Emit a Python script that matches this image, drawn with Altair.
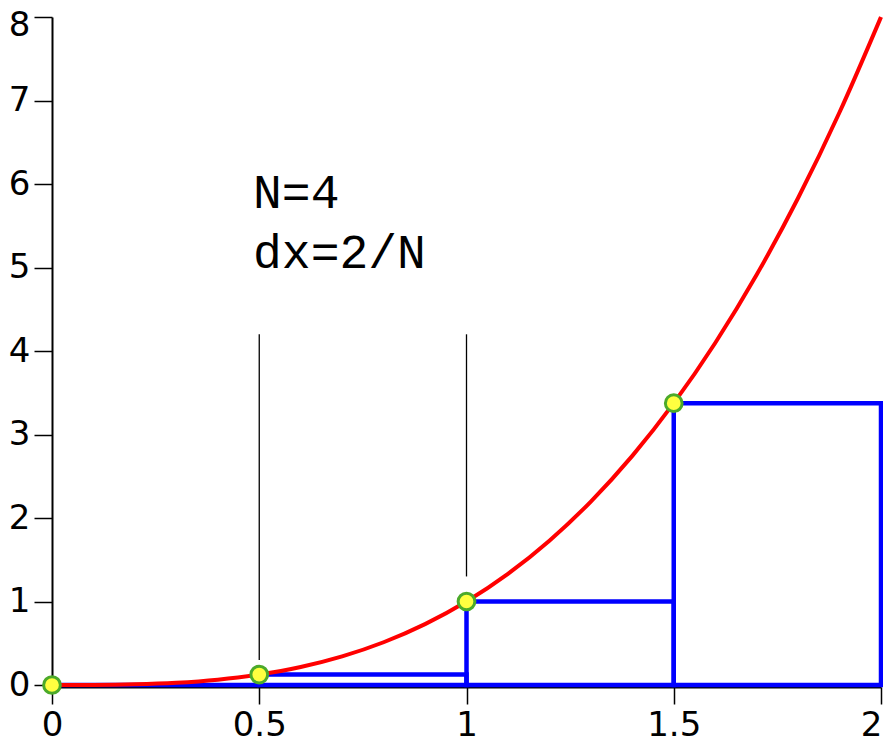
import altair as alt
import pandas as pd

# curve y = x^3
curve_x = [0.0, 0.1, 0.2, 0.3, 0.4, 0.5, 0.6, 0.7, 0.8, 0.9, 1.0,
           1.1, 1.2, 1.3, 1.4, 1.5, 1.6, 1.7, 1.8, 1.9, 2.0]
curve_y = [0.0, 0.001, 0.008, 0.027, 0.064, 0.125, 0.216, 0.343, 0.512, 0.729, 1.0,
           1.331, 1.728, 2.197, 2.744, 3.375, 4.096, 4.913, 5.832, 6.859, 8.0]

# left Riemann rectangles (N=4)
rect_x0 = [0.0, 0.5, 1.0, 1.5]
rect_x1 = [0.5, 1.0, 1.5, 2.0]
rect_h = [0.0, 0.125, 1.0, 3.375]

# sample points
pt_x = [0.0, 0.5, 1.0, 1.5]
pt_y = [0.0, 0.125, 1.0, 3.375]

# thin vertical guide lines
guide_x = [0.5, 1.0]
guide_top = [4.2, 4.2]
guide_bottom = [0.3, 1.3]

# annotations
note_text = ["N=4", "dx=2/N"]
note_x = [0.485, 0.485]
note_y = [5.71, 5.0]

x_ticks = [0, 0.5, 1, 1.5, 2]
y_ticks = [0, 1, 2, 3, 4, 5, 6, 7, 8]

curve_df = pd.DataFrame({"x": curve_x, "y": curve_y})
rect_df = pd.DataFrame({"x0": rect_x0, "x1": rect_x1, "y0": [0] * 4, "h": rect_h})
pt_df = pd.DataFrame({"x": pt_x, "y": pt_y})
guide_df = pd.DataFrame({"x": guide_x, "y": guide_bottom, "y2": guide_top})
note_df = pd.DataFrame({"x": note_x, "y": note_y, "t": note_text})

xs = alt.Scale(domain=[0, 2], nice=False, zero=False)
ys = alt.Scale(domain=[0, 8], nice=False, zero=False)

x_axis = alt.Axis(values=x_ticks, grid=False, domainColor="black", domainWidth=2,
                  tickColor="black", tickWidth=1.5, tickSize=17, labelPadding=4,
                  labelFont="DejaVu Sans", labelFontSize=34, labelColor="black",
                  labelOffset={"condition": {"test": "datum.value == 2", "value": -10}, "value": 0},
                  offset=2, title=None, labelExpr="datum.value + ''", labelFlush=False,
                  labelOverlap=False)
y_axis = alt.Axis(values=y_ticks, grid=False, domainColor="black", domainWidth=2,
                  tickColor="black", tickWidth=1.5, tickSize=18, labelPadding=4,
                  labelFont="DejaVu Sans", labelFontSize=34, labelColor="black",
                  labelExpr="datum.value + ''",
                  labelOffset={"condition": {"test": "datum.value == 8", "value": 8}, "value": 0},
                  title=None, labelFlush=False, labelOverlap=False)

guides = alt.Chart(guide_df).mark_rule(color="black", strokeWidth=1.3).encode(
    x=alt.X("x:Q", scale=xs, axis=x_axis),
    y=alt.Y("y:Q", scale=ys, axis=y_axis),
    y2="y2:Q",
)

rects = alt.Chart(rect_df).mark_rect(fillOpacity=0, stroke="#0000ff", strokeWidth=4.5).encode(
    x=alt.X("x0:Q", scale=xs),
    x2="x1:Q",
    y=alt.Y("y0:Q", scale=ys),
    y2="h:Q",
)

line = alt.Chart(curve_df).mark_line(color="#ff0000", strokeWidth=4, interpolate="monotone").encode(
    x=alt.X("x:Q", scale=xs),
    y=alt.Y("y:Q", scale=ys),
)

points = alt.Chart(pt_df).mark_circle(size=280, fill="#ffff40", stroke="#4caa2a",
                                       strokeWidth=3, opacity=1).encode(
    x=alt.X("x:Q", scale=xs),
    y=alt.Y("y:Q", scale=ys),
)

notes = alt.Chart(note_df).mark_text(font="Liberation Mono", fontSize=48, align="left",
                                     baseline="alphabetic", color="black").encode(
    x=alt.X("x:Q", scale=xs),
    y=alt.Y("y:Q", scale=ys),
    text="t:N",
)

chart = alt.layer(guides, rects, line, points, notes).properties(
    width=829, height=668,
    autosize=alt.AutoSizeParams(type="none"),
    padding={"left": 44, "top": 9, "right": 2, "bottom": 57},
).configure_view(stroke=None)

chart.save("out.html", embed_options={"renderer": "svg", "actions": False})
